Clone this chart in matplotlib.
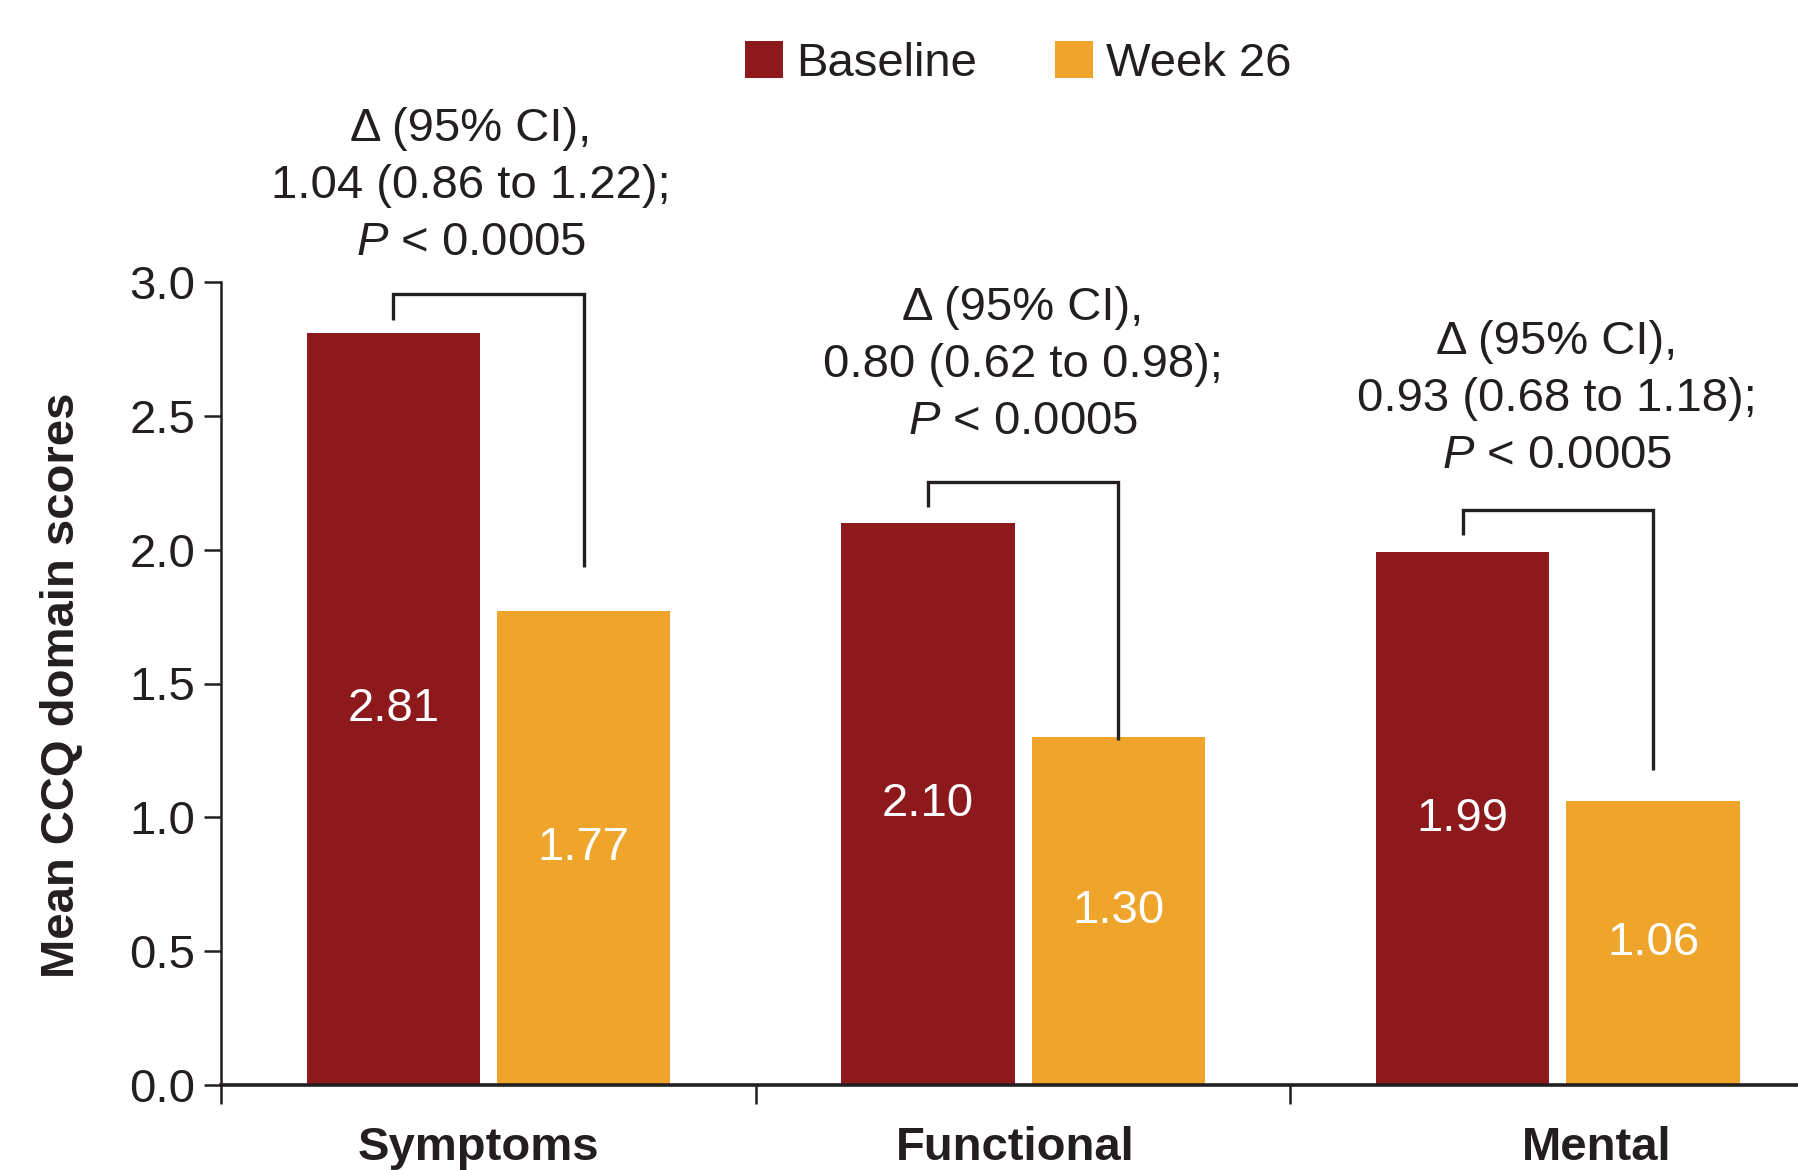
import matplotlib
matplotlib.use("Agg")
import matplotlib.pyplot as plt
from matplotlib.patches import Patch

# ---- data ----
categories = ["Symptoms", "Functional", "Mental"]
baseline = [2.81, 2.10, 1.99]
week26 = [1.77, 1.30, 1.06]
deltas = ["1.04 (0.86 to 1.22);", "0.80 (0.62 to 0.98);", "0.93 (0.68 to 1.18);"]
series_names = ["Baseline", "Week 26"]
yticks = [0.0, 0.5, 1.0, 1.5, 2.0, 2.5, 3.0]
ylabel = "Mean CCQ domain scores"

# ---- layout / style ----
c_base = "#8E191D"
c_week = "#EFA52B"
c_text = "#231F20"
fs = 34
plt.rcParams["font.family"] = ["Liberation Sans", "DejaVu Sans"]
plt.rcParams["mathtext.fontset"] = "custom"
plt.rcParams["mathtext.rm"] = "Liberation Sans"
plt.rcParams["mathtext.it"] = "Liberation Sans:italic"
plt.rcParams["text.color"] = c_text

bar_w = 0.324
off = 0.178
bracket_top = [2.957, 2.251, 2.148]
left_leg_bottom = [2.858, 2.158, 2.055]
right_leg_bottom = [1.936, 1.29, 1.177]
text_x = [0.467, 1.499, 2.498]
text_base = [3.10, 2.432, 2.304]
line_gap = 0.213
cat_label_x = [0.481, 1.485, 2.573]

fig = plt.figure(figsize=(17.99, 11.70), dpi=100)
ax = fig.add_axes([221 / 1799, 85 / 1170, (1799 - 221) / 1799, (1085 - 282) / 1170])
ax.set_xlim(0, 2.951)
ax.set_ylim(0, 3.0)

for i in range(len(categories)):
    xc = i + 0.5
    xb, xw = xc - off, xc + off
    ax.bar(xb, baseline[i], width=bar_w, color=c_base, zorder=2)
    ax.bar(xw, week26[i], width=bar_w, color=c_week, zorder=2)
    ax.text(xb, baseline[i] / 2, f"{baseline[i]:.2f}", color="white", fontsize=fs,
            ha="center", va="center", zorder=3)
    ax.text(xw, week26[i] / 2, f"{week26[i]:.2f}", color="white", fontsize=fs,
            ha="center", va="center", zorder=3)
    ax.plot([xb, xb, xw, xw],
            [left_leg_bottom[i], bracket_top[i], bracket_top[i], right_leg_bottom[i]],
            color=c_text, lw=2.4, solid_joinstyle="miter", solid_capstyle="butt",
            zorder=3, clip_on=False)
    lines = ["\u0394 (95% CI),", deltas[i], "$P$ < 0.0005"]
    for k, s in enumerate(lines):
        ax.text(text_x[i], text_base[i] + (2 - k) * line_gap, s, fontsize=fs,
                ha="center", va="baseline", color=c_text, clip_on=False)

# axes styling
for sp in ["top", "right"]:
    ax.spines[sp].set_visible(False)
ax.spines["left"].set_linewidth(1.8)
ax.spines["bottom"].set_linewidth(2.6)
ax.spines["left"].set_color(c_text)
ax.spines["bottom"].set_color(c_text)

ax.set_yticks(yticks)
ax.set_yticklabels([f"{v:.1f}" for v in yticks])
ax.tick_params(axis="y", length=12, width=1.8, pad=6.5, labelsize=fs, colors=c_text)

ax.set_xticks([0, 1, 2])
ax.set_xticklabels([])
ax.tick_params(axis="x", which="major", length=14, width=1.8, colors=c_text)
ax.set_xticks(cat_label_x, minor=True)
ax.set_xticklabels(categories, minor=True, fontsize=fs, fontweight="bold")
ax.tick_params(axis="x", which="minor", length=0, pad=29.5, colors=c_text)

fig.text(62 / 1799, 0.4145, ylabel, rotation=90, fontsize=fs, fontweight="bold",
         ha="center", va="center", color=c_text)

handles = [Patch(facecolor=c_base, edgecolor="none"), Patch(facecolor=c_week, edgecolor="none")]
fig.legend(handles, series_names, loc="center", bbox_to_anchor=(0.566, 0.946), ncol=2,
           frameon=False, fontsize=fs, handlelength=0.8, handleheight=0.82,
           handletextpad=0.28, columnspacing=1.65, borderaxespad=0, borderpad=0)

fig.savefig("out.png", dpi=100)
